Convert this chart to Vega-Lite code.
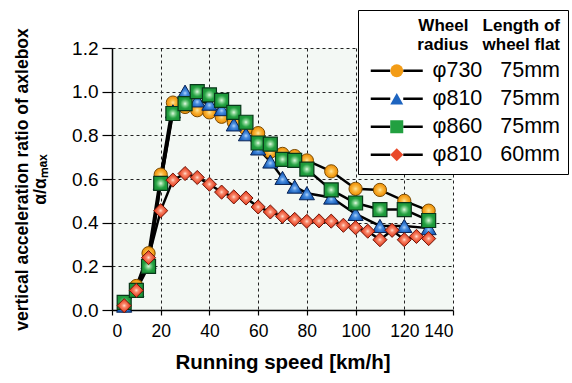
{
  "$schema": "https://vega.github.io/schema/vega-lite/v6.json",
  "width": 341,
  "height": 262,
  "autosize": {"type": "none"},
  "padding": {"left": 112, "top": 48, "right": 119, "bottom": 73},
  "background": "white",
  "config": {
    "view": {"fill": "#f3f8f4", "stroke": null},
    "axis": {
      "domainColor": "black",
      "domainWidth": 1.5,
      "tickColor": "black",
      "tickWidth": 1.2,
      "gridColor": "#222222",
      "gridDash": [3, 3],
      "gridWidth": 1,
      "labelColor": "black",
      "titleColor": "black",
      "titleFontWeight": "bold",
      "labelOverlap": false
    }
  },
  "data": {
    "values": [
      {"series": "φ730|75mm", "speed": 5, "ratio": 0.02},
      {"series": "φ730|75mm", "speed": 10, "ratio": 0.11},
      {"series": "φ730|75mm", "speed": 15, "ratio": 0.26},
      {"series": "φ730|75mm", "speed": 20, "ratio": 0.62},
      {"series": "φ730|75mm", "speed": 25, "ratio": 0.95},
      {"series": "φ730|75mm", "speed": 30, "ratio": 0.93},
      {"series": "φ730|75mm", "speed": 35, "ratio": 0.915},
      {"series": "φ730|75mm", "speed": 40, "ratio": 0.905},
      {"series": "φ730|75mm", "speed": 45, "ratio": 0.885},
      {"series": "φ730|75mm", "speed": 50, "ratio": 0.86},
      {"series": "φ730|75mm", "speed": 55, "ratio": 0.83},
      {"series": "φ730|75mm", "speed": 60, "ratio": 0.81},
      {"series": "φ730|75mm", "speed": 65, "ratio": 0.725},
      {"series": "φ730|75mm", "speed": 70, "ratio": 0.715},
      {"series": "φ730|75mm", "speed": 75, "ratio": 0.705},
      {"series": "φ730|75mm", "speed": 80, "ratio": 0.685},
      {"series": "φ730|75mm", "speed": 90, "ratio": 0.635},
      {"series": "φ730|75mm", "speed": 100, "ratio": 0.555},
      {"series": "φ730|75mm", "speed": 110, "ratio": 0.55},
      {"series": "φ730|75mm", "speed": 120, "ratio": 0.5},
      {"series": "φ730|75mm", "speed": 130, "ratio": 0.455},

      {"series": "φ810|75mm", "speed": 5, "ratio": 0.02},
      {"series": "φ810|75mm", "speed": 10, "ratio": 0.09},
      {"series": "φ810|75mm", "speed": 15, "ratio": 0.22},
      {"series": "φ810|75mm", "speed": 20, "ratio": 0.58},
      {"series": "φ810|75mm", "speed": 25, "ratio": 0.91},
      {"series": "φ810|75mm", "speed": 30, "ratio": 1.0},
      {"series": "φ810|75mm", "speed": 35, "ratio": 0.96},
      {"series": "φ810|75mm", "speed": 40, "ratio": 0.945},
      {"series": "φ810|75mm", "speed": 45, "ratio": 0.92},
      {"series": "φ810|75mm", "speed": 50, "ratio": 0.85},
      {"series": "φ810|75mm", "speed": 55, "ratio": 0.805},
      {"series": "φ810|75mm", "speed": 60, "ratio": 0.74},
      {"series": "φ810|75mm", "speed": 65, "ratio": 0.68},
      {"series": "φ810|75mm", "speed": 70, "ratio": 0.605},
      {"series": "φ810|75mm", "speed": 75, "ratio": 0.565},
      {"series": "φ810|75mm", "speed": 80, "ratio": 0.535},
      {"series": "φ810|75mm", "speed": 90, "ratio": 0.515},
      {"series": "φ810|75mm", "speed": 100, "ratio": 0.44},
      {"series": "φ810|75mm", "speed": 110, "ratio": 0.385},
      {"series": "φ810|75mm", "speed": 120, "ratio": 0.385},
      {"series": "φ810|75mm", "speed": 130, "ratio": 0.375},

      {"series": "φ860|75mm", "speed": 5, "ratio": 0.035},
      {"series": "φ860|75mm", "speed": 10, "ratio": 0.09},
      {"series": "φ860|75mm", "speed": 15, "ratio": 0.2},
      {"series": "φ860|75mm", "speed": 20, "ratio": 0.58},
      {"series": "φ860|75mm", "speed": 25, "ratio": 0.9},
      {"series": "φ860|75mm", "speed": 30, "ratio": 0.945},
      {"series": "φ860|75mm", "speed": 35, "ratio": 1.0},
      {"series": "φ860|75mm", "speed": 40, "ratio": 0.985},
      {"series": "φ860|75mm", "speed": 45, "ratio": 0.96},
      {"series": "φ860|75mm", "speed": 50, "ratio": 0.905},
      {"series": "φ860|75mm", "speed": 55, "ratio": 0.86},
      {"series": "φ860|75mm", "speed": 60, "ratio": 0.765},
      {"series": "φ860|75mm", "speed": 65, "ratio": 0.76},
      {"series": "φ860|75mm", "speed": 70, "ratio": 0.69},
      {"series": "φ860|75mm", "speed": 75, "ratio": 0.685},
      {"series": "φ860|75mm", "speed": 80, "ratio": 0.645},
      {"series": "φ860|75mm", "speed": 90, "ratio": 0.55},
      {"series": "φ860|75mm", "speed": 100, "ratio": 0.49},
      {"series": "φ860|75mm", "speed": 110, "ratio": 0.46},
      {"series": "φ860|75mm", "speed": 120, "ratio": 0.46},
      {"series": "φ860|75mm", "speed": 130, "ratio": 0.41},

      {"series": "φ810|60mm", "speed": 5, "ratio": 0.02},
      {"series": "φ810|60mm", "speed": 10, "ratio": 0.09},
      {"series": "φ810|60mm", "speed": 15, "ratio": 0.24},
      {"series": "φ810|60mm", "speed": 20, "ratio": 0.455},
      {"series": "φ810|60mm", "speed": 25, "ratio": 0.595},
      {"series": "φ810|60mm", "speed": 30, "ratio": 0.625},
      {"series": "φ810|60mm", "speed": 35, "ratio": 0.607},
      {"series": "φ810|60mm", "speed": 40, "ratio": 0.576},
      {"series": "φ810|60mm", "speed": 45, "ratio": 0.54},
      {"series": "φ810|60mm", "speed": 50, "ratio": 0.518},
      {"series": "φ810|60mm", "speed": 55, "ratio": 0.513},
      {"series": "φ810|60mm", "speed": 60, "ratio": 0.472},
      {"series": "φ810|60mm", "speed": 65, "ratio": 0.449},
      {"series": "φ810|60mm", "speed": 70, "ratio": 0.429},
      {"series": "φ810|60mm", "speed": 75, "ratio": 0.415},
      {"series": "φ810|60mm", "speed": 80, "ratio": 0.406},
      {"series": "φ810|60mm", "speed": 85, "ratio": 0.408},
      {"series": "φ810|60mm", "speed": 90, "ratio": 0.407},
      {"series": "φ810|60mm", "speed": 95, "ratio": 0.388},
      {"series": "φ810|60mm", "speed": 100, "ratio": 0.377},
      {"series": "φ810|60mm", "speed": 105, "ratio": 0.361},
      {"series": "φ810|60mm", "speed": 110, "ratio": 0.322},
      {"series": "φ810|60mm", "speed": 115, "ratio": 0.365},
      {"series": "φ810|60mm", "speed": 120, "ratio": 0.322},
      {"series": "φ810|60mm", "speed": 125, "ratio": 0.337},
      {"series": "φ810|60mm", "speed": 130, "ratio": 0.327}
    ]
  },
  "layer": [
    {
      "mark": {"type": "line", "strokeWidth": 2.5},
      "encoding": {
        "x": {
          "field": "speed",
          "type": "quantitative",
          "scale": {"domain": [0, 140], "nice": false},
          "axis": {
            "values": [0, 20, 40, 60, 80, 100, 120, 140],
            "title": "Running speed [km/h]",
            "titleFont": "'Liberation Sans', Arial, sans-serif",
            "titleFontSize": 20.5,
            "titlePadding": 13,
            "labelFont": "'Liberation Sans', Arial, sans-serif",
            "labelFontSize": 17.5,
            "labelPadding": 7,
            "tickSize": 5
          }
        },
        "y": {
          "field": "ratio",
          "type": "quantitative",
          "scale": {"domain": [0, 1.2], "nice": false},
          "axis": {
            "values": [0, 0.2, 0.4, 0.6, 0.8, 1.0, 1.2],
            "format": ".1f",
            "title": ["vertical acceleration ratio of axlebox", "α/αₘₐₓ"],
            "titleFont": "'Liberation Sans', Arial, sans-serif",
            "titleFontSize": 17.5,
            "titleLineHeight": 18,
            "titlePadding": 22,
            "labelFont": "'Liberation Sans', Arial, sans-serif",
            "labelFontSize": 19,
            "labelPadding": 4,
            "tickSize": 10
          }
        },
        "stroke": {
          "field": "series",
          "type": "nominal",
          "sort": ["φ730|75mm", "φ810|75mm", "φ860|75mm", "φ810|60mm"],
          "scale": {"range": ["black", "black", "black", "black"]},
          "legend": {
            "orient": "none",
            "legendX": 246,
            "legendY": -38,
            "title": ["Wheel\u00a0\u00a0\u00a0Length of", "radius\u00a0\u00a0\u00a0wheel flat"],
            "titleAnchor": "end",
            "titleFont": "'Liberation Sans', Arial, sans-serif",
            "titleFontSize": 17,
            "titleFontWeight": "bold",
            "titleLineHeight": 19,
            "titleColor": "transparent",
            "titlePadding": 6,
            "labelExpr": "replace(datum.label, '|', '\u00a0\u00a0\u00a0')",
            "labelFont": "'Liberation Sans', Arial, sans-serif",
            "labelFontSize": 21.5,
            "labelColor": "transparent",
            "labelOffset": 25,
            "symbolType": "M-4,0H-1M1,0H4",
            "symbolOffset": 20,
            "symbolSize": 169,
            "symbolStrokeColor": "black",
            "symbolStrokeWidth": 2.5,
            "rowPadding": 5,
            "padding": 8,
            "strokeColor": "black",
            "fillColor": "white",
            "cornerRadius": 0
          }
        }
      }
    },
    {
      "transform": [{"filter": "datum.series === 'φ730|75mm'"}],
      "mark": {
        "type": "point", "shape": "circle", "filled": true, "size": 175, "opacity": 1,
        "fill": {"gradient": "radial", "x1": 0.5, "y1": 0.5, "r1": 0, "x2": 0.5, "y2": 0.5, "r2": 0.5,
          "stops": [{"offset": 0, "color": "#ffeab0"}, {"offset": 0.3, "color": "#fbc350"}, {"offset": 0.75, "color": "#f39c16"}, {"offset": 1, "color": "#f0950f"}]},
        "stroke": "#7a4a00", "strokeWidth": 1
      },
      "encoding": {"x": {"field": "speed", "type": "quantitative"}, "y": {"field": "ratio", "type": "quantitative"}}
    },
    {
      "transform": [{"filter": "datum.series === 'φ810|75mm'"}],
      "mark": {
        "type": "point", "shape": "triangle-up", "filled": true, "size": 230, "opacity": 1,
        "fill": {"gradient": "radial", "x1": 0.5, "y1": 0.6, "r1": 0, "x2": 0.5, "y2": 0.6, "r2": 0.5,
          "stops": [{"offset": 0, "color": "#bcdcff"}, {"offset": 0.3, "color": "#4b8fe0"}, {"offset": 0.75, "color": "#1d64c0"}, {"offset": 1, "color": "#175ab4"}]},
        "stroke": "#0a2456", "strokeWidth": 1
      },
      "encoding": {"x": {"field": "speed", "type": "quantitative"}, "y": {"field": "ratio", "type": "quantitative"}}
    },
    {
      "transform": [{"filter": "datum.series === 'φ860|75mm'"}],
      "mark": {
        "type": "point", "shape": "square", "filled": true, "size": 196, "opacity": 1,
        "fill": {"gradient": "radial", "x1": 0.5, "y1": 0.5, "r1": 0, "x2": 0.5, "y2": 0.5, "r2": 0.5,
          "stops": [{"offset": 0, "color": "#f4fff4"}, {"offset": 0.25, "color": "#8fd89a"}, {"offset": 0.7, "color": "#22a040"}, {"offset": 1, "color": "#1b9638"}]},
        "stroke": "#08381a", "strokeWidth": 1.2
      },
      "encoding": {"x": {"field": "speed", "type": "quantitative"}, "y": {"field": "ratio", "type": "quantitative"}}
    },
    {
      "transform": [{"filter": "datum.series === 'φ810|60mm'"}],
      "mark": {
        "type": "point", "shape": "diamond", "filled": true, "size": 200, "opacity": 1,
        "fill": {"gradient": "radial", "x1": 0.5, "y1": 0.5, "r1": 0, "x2": 0.5, "y2": 0.5, "r2": 0.5,
          "stops": [{"offset": 0, "color": "#ffe2d4"}, {"offset": 0.3, "color": "#f7876a"}, {"offset": 0.75, "color": "#e9492a"}, {"offset": 1, "color": "#e34024"}]},
        "stroke": "#6e1508", "strokeWidth": 1
      },
      "encoding": {"x": {"field": "speed", "type": "quantitative"}, "y": {"field": "ratio", "type": "quantitative"}}
    },
    {
      "mark": {"type": "point", "filled": true, "size": 0, "opacity": 1},
      "encoding": {
        "x": {"field": "speed", "type": "quantitative"},
        "y": {"field": "ratio", "type": "quantitative"},
        "shape": {
          "field": "series",
          "type": "nominal",
          "scale": {
            "domain": ["φ730|75mm", "φ810|75mm", "φ860|75mm", "φ810|60mm"],
            "range": ["circle", "triangle-up", "square", "diamond"]
          },
          "legend": {
            "orient": "none",
            "legendX": 246,
            "legendY": -38,
            "title": ["Wheel\u00a0\u00a0\u00a0Length of", "radius\u00a0\u00a0\u00a0wheel flat"],
            "titleAnchor": "end",
            "titleFont": "'Liberation Sans', Arial, sans-serif",
            "titleFontSize": 17,
            "titleFontWeight": "bold",
            "titleLineHeight": 19,
            "titleColor": "black",
            "titlePadding": 6,
            "labelExpr": "replace(datum.label, '|', '\u00a0\u00a0\u00a0')",
            "labelFont": "'Liberation Sans', Arial, sans-serif",
            "labelFontSize": 21.5,
            "labelColor": "black",
            "labelOffset": 25,
            "symbolOffset": 20,
            "symbolSize": 169,
            "symbolOpacity": 1,
            "symbolStrokeColor": "#222222",
            "symbolStrokeWidth": 1,
            "rowPadding": 5,
            "padding": 8,
            "cornerRadius": 0
          }
        },
        "fill": {
          "field": "series",
          "type": "nominal",
          "scale": {
            "domain": ["φ730|75mm", "φ810|75mm", "φ860|75mm", "φ810|60mm"],
            "range": ["#f39c16", "#1d64c0", "#22a040", "#e9492a"]
          },
          "legend": {
            "orient": "none",
            "legendX": 246,
            "legendY": -38,
            "title": ["Wheel\u00a0\u00a0\u00a0Length of", "radius\u00a0\u00a0\u00a0wheel flat"],
            "titleAnchor": "end",
            "titleFont": "'Liberation Sans', Arial, sans-serif",
            "titleFontSize": 17,
            "titleFontWeight": "bold",
            "titleLineHeight": 19,
            "titleColor": "black",
            "titlePadding": 6,
            "labelExpr": "replace(datum.label, '|', '\u00a0\u00a0\u00a0')",
            "labelFont": "'Liberation Sans', Arial, sans-serif",
            "labelFontSize": 21.5,
            "labelColor": "black",
            "labelOffset": 25,
            "symbolOffset": 20,
            "symbolSize": 169,
            "symbolOpacity": 1,
            "symbolStrokeColor": "#222222",
            "symbolStrokeWidth": 1,
            "rowPadding": 5,
            "padding": 8,
            "cornerRadius": 0
          }
        }
      }
    }
  ]
}
